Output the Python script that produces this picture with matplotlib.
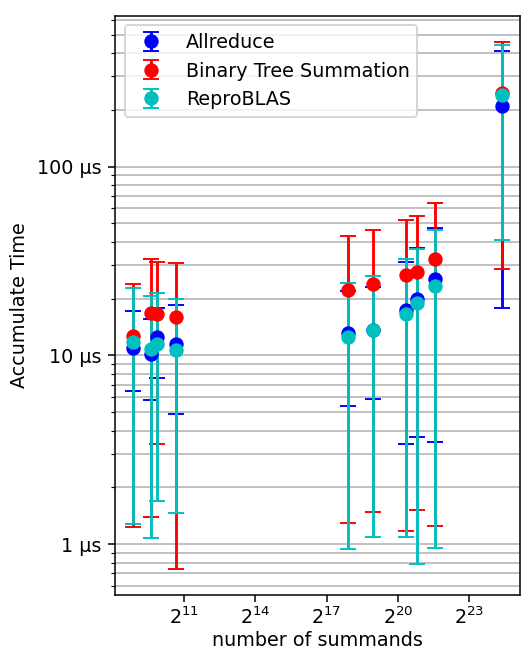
import numpy as np
import matplotlib
matplotlib.use("Agg")
import matplotlib.pyplot as plt
from matplotlib.ticker import FuncFormatter, NullLocator, NullFormatter

# number of summands (x positions)
summands = np.array([465, 776, 916, 1607, 243000, 513000,
                     1.346e6, 1.826e6, 3.07e6, 2.2e7])

# times in microseconds: point, lower end, upper end of the error bar
allreduce = np.array([10.98, 10.12, 12.54, 11.43, 13.17, 13.7, 17.31, 19.95, 25.33, 209.5])
allreduce_lo = np.array([6.49, 5.82, 7.59, 4.91, 5.41, 5.87, 3.40, 3.69, 3.50, 17.83])
allreduce_hi = np.array([17.19, 15.6, 17.89, 18.49, 21.98, 23.16, 31.36, 37.0, 47.17, 407.8])

tree = np.array([12.64, 16.78, 16.6, 15.91, 22.25, 23.85, 26.69, 27.77, 32.4, 246.1])
tree_lo = np.array([1.233, 1.392, 3.41, 0.739, 1.30, 1.486, 1.181, 1.51, 1.254, 28.6])
tree_hi = np.array([24.02, 32.4, 31.36, 30.98, 42.97, 46.04, 52.42, 54.55, 64.1, 456.5])

repro = np.array([11.81, 10.75, 11.52, 10.62, 12.54, 13.7, 16.58, 18.94, 23.44, 239.2])
repro_lo = np.array([1.279, 1.085, 1.69, 1.469, 0.938, 1.093, 1.098, 0.785, 0.953, 41.1])
repro_hi = np.array([22.72, 20.69, 21.46, 19.88, 24.13, 26.46, 32.4, 36.57, 46.04, 438.6])

x_ticks = [2**11, 2**14, 2**17, 2**20, 2**23]

DPI = 138
fig = plt.figure(figsize=(522 / DPI, 655 / DPI), dpi=DPI)
ax = fig.add_axes([0.2203, 0.091, 0.7767, 0.885])

series = [
    (allreduce, allreduce_lo, allreduce_hi, 'b', "Allreduce"),
    (tree, tree_lo, tree_hi, 'r', "Binary Tree Summation"),
    (repro, repro_lo, repro_hi, 'c', "ReproBLAS"),
]
for y, lo, hi, col, name in series:
    ax.errorbar(summands, y, yerr=[y - lo, hi - y], fmt='o', color=col,
                markersize=6.5, capsize=4, label=name)

ax.set_xscale('log', base=2)
ax.set_yscale('log')
ax.set_xticks(x_ticks)
ax.xaxis.set_minor_locator(NullLocator())
ax.tick_params(axis='x', pad=2.5)
ax.yaxis.set_major_formatter(FuncFormatter(lambda v, p: f"{v:g} µs"))
ax.yaxis.set_minor_formatter(NullFormatter())
ax.grid(True, which='both', axis='y')

ax.set_xlabel("number of summands", labelpad=1.5)
ax.set_ylabel("Accumulate Time")
ax.legend(loc='upper left')

fig.savefig("out.png", dpi=DPI)
